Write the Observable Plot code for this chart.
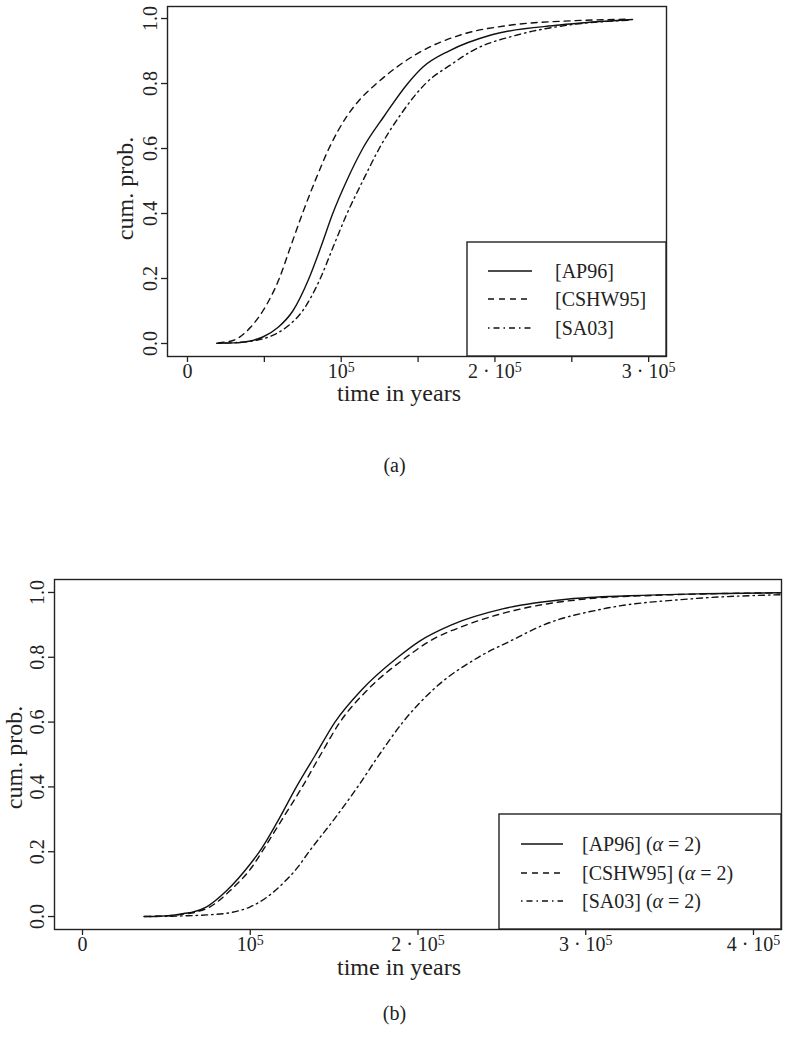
<!DOCTYPE html>
<html>
<head>
<meta charset="utf-8">
<script src="https://cdn.jsdelivr.net/npm/d3@7"></script>
<script src="https://cdn.jsdelivr.net/npm/@observablehq/plot@0.6"></script>
<style>
  body { margin: 0; background: #fff; }
  #wrap { position: relative; width: 789px; height: 1050px; font-family: "Liberation Serif", serif; color: #222; }
  .fig { position: absolute; left: 0; }
  .cap { position: absolute; left: 0; width: 789px; text-align: center; font-size: 20px; line-height: 24px; }
</style>
</head>
<body>
<div id="wrap">
  <div id="figA" class="fig" style="top:0px"></div>
  <div class="cap" style="top:453px">(a)</div>
  <div id="figB" class="fig" style="top:560px"></div>
  <div class="cap" style="top:1001px">(b)</div>
</div>
<script>
// ---------- Data: panel (a) ----------
const seriesNamesA = ["[AP96]", "[CSHW95]", "[SA03]"];
const a_AP96_t = [19000, 30000, 40000, 49000, 59000, 68500, 79000, 87000, 94500, 103500, 114000, 128000, 143300, 153000, 170000, 198000, 242000, 289500];
const a_AP96_p = [0.001, 0.002, 0.007, 0.02, 0.05, 0.10, 0.20, 0.30, 0.40, 0.50, 0.60, 0.70, 0.80, 0.85, 0.90, 0.95, 0.98, 0.997];
const a_CSHW95_t = [20000, 30000, 41000, 49000, 59700, 67200, 74800, 83000, 92000, 103800, 112000, 123000, 136000, 152500, 178000, 210600, 250000, 287000];
const a_CSHW95_p = [0.002, 0.01, 0.05, 0.10, 0.20, 0.30, 0.40, 0.50, 0.60, 0.70, 0.75, 0.80, 0.85, 0.90, 0.95, 0.98, 0.993, 0.998];
const a_SA03_t = [21000, 35000, 45000, 52700, 64300, 74800, 86400, 95000, 103800, 114000, 124700, 138000, 154900, 172000, 185000, 215000, 248000, 289000];
const a_SA03_p = [0.001, 0.004, 0.01, 0.02, 0.05, 0.10, 0.20, 0.30, 0.40, 0.50, 0.60, 0.70, 0.80, 0.86, 0.90, 0.95, 0.98, 0.995];

// ---------- Data: panel (b) ----------
const seriesNamesB = ["[AP96]", "[CSHW95]", "[SA03]"];
const b_AP96_t = [36600, 45000, 53000, 61000, 65000, 74000, 86000, 100000, 105500, 117000, 127500, 139000, 150500, 166500, 188000, 201000, 220000, 251000, 290000, 326000, 370000, 416000];
const b_AP96_p = [0.0, 0.001, 0.003, 0.01, 0.013, 0.03, 0.08, 0.162, 0.20, 0.30, 0.40, 0.50, 0.60, 0.70, 0.80, 0.85, 0.90, 0.95, 0.98, 0.99, 0.996, 0.999];
const b_CSHW95_t = [37000, 45000, 53000, 61000, 67000, 76000, 88000, 102000, 107000, 119000, 131000, 142000, 153500, 170000, 193000, 207000, 229000, 262000, 300000, 335000, 375000, 416000];
const b_CSHW95_p = [0.0, 0.001, 0.003, 0.008, 0.013, 0.03, 0.08, 0.16, 0.20, 0.30, 0.40, 0.50, 0.60, 0.70, 0.80, 0.85, 0.90, 0.95, 0.98, 0.99, 0.996, 0.999];
const b_SA03_t = [40000, 60000, 74000, 88000, 100000, 110000, 119000, 128000, 135000, 150000, 164000, 177000, 191000, 209000, 236000, 255000, 275000, 311000, 362000, 416000];
const b_SA03_p = [0.0, 0.002, 0.005, 0.012, 0.03, 0.06, 0.10, 0.15, 0.20, 0.30, 0.40, 0.50, 0.60, 0.70, 0.80, 0.85, 0.90, 0.95, 0.98, 0.993];

// ---------- Axis ticks / labels ----------
const yTicks = [0, 0.2, 0.4, 0.6, 0.8, 1.0];
const xTicksA = [0, 50000, 100000, 150000, 200000, 250000, 300000];
const xLabelsA = [[0, "0"], [100000, "10⁵"], [200000, "2 · 10⁵"], [300000, "3 · 10⁵"]];
const xTicksB = [0, 100000, 200000, 300000, 400000];
const xLabelsB = [[0, "0"], [100000, "10⁵"], [200000, "2 · 10⁵"], [300000, "3 · 10⁵"], [400000, "4 · 10⁵"]];
const xTitle = "time in years";
const yTitle = "cum. prob.";
const dashes = [null, "6,5", "1.5,4,6,4"];

function zip(t, p) { return t.map((v, i) => ({t: v, p: p[i]})); }

function makeChart(cfg) {
  const ink = "#222";
  const marks = [
    ...cfg.series.map((s, i) => Plot.line(s, {
      x: "t", y: "p", stroke: "#111", strokeWidth: 1.4,
      strokeDasharray: dashes[i] ?? undefined, curve: "monotone-x", clip: true
    })),
    Plot.frame({stroke: ink, strokeWidth: 1.4}),
    Plot.axisX({ticks: cfg.xTicks, tickSize: 6, tickFormat: () => "", label: null, stroke: ink, strokeWidth: 1.3}),
    Plot.axisY({ticks: yTicks, tickSize: 6, tickFormat: () => "", label: null, stroke: ink, strokeWidth: 1.3}),
    Plot.text(cfg.xLabels, {x: d => d[0], text: d => d[1], frameAnchor: "bottom", dy: 15, lineAnchor: "middle", fontSize: 20, fill: ink}),
    Plot.text(yTicks, {y: d => d, text: d => d.toFixed(1), frameAnchor: "left", rotate: -90, dx: -17, textAnchor: "middle", lineAnchor: "middle", fontSize: 20, fill: ink}),
    Plot.text([xTitle], {text: d => d, frameAnchor: "bottom", dy: cfg.xTitleDy, dx: cfg.xTitleDx, lineAnchor: "middle", fontSize: 24, fill: ink}),
    Plot.text([yTitle], {text: d => d, frameAnchor: "left", rotate: -90, dx: cfg.yTitleDx, dy: cfg.yTitleDy, textAnchor: "middle", lineAnchor: "middle", fontSize: 24, fill: ink})
  ];
  const svg = Plot.plot({
    width: 789, height: cfg.height,
    marginLeft: cfg.m[3], marginRight: cfg.m[1], marginTop: cfg.m[0], marginBottom: cfg.m[2],
    style: {fontFamily: "'Liberation Serif', serif", background: "#fff", overflow: "visible"},
    x: {domain: cfg.xDomain},
    y: {domain: cfg.yDomain},
    marks
  });
  // raise the exponent "5" in tick labels as a real superscript
  d3.select(svg).selectAll("text").each(function() {
    const el = d3.select(this);
    const s = el.text();
    if (s.includes("⁵") && this.childElementCount === 0) {
      el.text(s.replace("⁵", ""));
      el.append("tspan").attr("dy", "-0.45em").attr("font-size", 14).text("5");
    }
  });
  // legend (bottom-right, inside the plot frame)
  const right = 789 - cfg.m[1], bottom = cfg.height - cfg.m[2];
  const L = cfg.legend;
  const g = d3.select(svg).append("g").attr("text-anchor", "start");
  g.append("rect").attr("x", L.left).attr("y", L.top).attr("width", right - L.left).attr("height", bottom - L.top)
    .attr("fill", "#fff").attr("stroke", ink).attr("stroke-width", 1.4);
  cfg.names.forEach((name, i) => {
    const y = L.rows[i];
    g.append("line").attr("x1", L.s0).attr("x2", L.s1).attr("y1", y).attr("y2", y)
      .attr("stroke", "#111").attr("stroke-width", 1.4).attr("stroke-dasharray", dashes[i]);
    const t = g.append("text").attr("x", L.tx).attr("y", y).attr("dy", "0.35em")
      .attr("text-anchor", "start").attr("font-size", 20).attr("fill", ink).text(name);
    if (cfg.alpha) {
      t.append("tspan").text(" (");
      t.append("tspan").attr("font-style", "italic").text("α");
      t.append("tspan").text(" = 2)");
    }
  });
  return svg;
}

document.getElementById("figA").appendChild(makeChart({
  series: [zip(a_AP96_t, a_AP96_p), zip(a_CSHW95_t, a_CSHW95_p), zip(a_SA03_t, a_SA03_p)],
  names: seriesNamesA, alpha: false,
  height: 410, m: [6, 123, 54, 167],
  xDomain: [-13000, 311600], yDomain: [-0.04, 1.037],
  xTicks: xTicksA, xLabels: xLabelsA,
  xTitleDy: 37, xTitleDx: -18, yTitleDx: -42, yTitleDy: 7,
  legend: {left: 467, top: 242, rows: [271, 299, 328], s0: 488, s1: 532, tx: 555}
}));

document.getElementById("figB").appendChild(makeChart({
  series: [zip(b_AP96_t, b_AP96_p), zip(b_CSHW95_t, b_CSHW95_p), zip(b_SA03_t, b_SA03_p)],
  names: seriesNamesB, alpha: true,
  height: 430, m: [19, 8, 61, 54],
  xDomain: [-16700, 416700], yDomain: [-0.04, 1.04],
  xTicks: xTicksB, xLabels: xLabelsB,
  xTitleDy: 38, xTitleDx: -19, yTitleDx: -40, yTitleDy: 3,
  legend: {left: 499, top: 254, rows: [284, 313, 341], s0: 521, s1: 563, tx: 582}
}));
</script>
</body>
</html>
